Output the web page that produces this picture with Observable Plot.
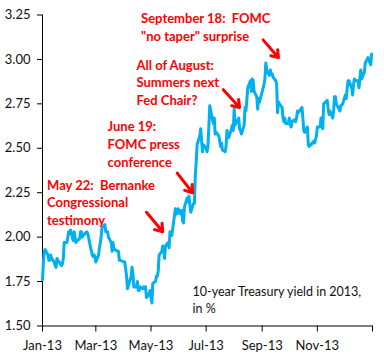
<!DOCTYPE html>
<html>
<head>
<meta charset="utf-8">
<script src="https://cdn.jsdelivr.net/npm/d3@7"></script>
<script src="https://cdn.jsdelivr.net/npm/@observablehq/plot@0.6"></script>
<style>
  html, body { margin: 0; padding: 0; background: #fff; }
  #chart { width: 384px; height: 360px; }
</style>
</head>
<body>
<div id="chart"></div>
<script>
// Trading dates (2013, "MM-DD") and 10-year Treasury yields (%)
const dates = [
  "01-01","01-02","01-03","01-04","01-07","01-08","01-09","01-10","01-11","01-14","01-15","01-16","01-17","01-18","01-22","01-23","01-24","01-25","01-28","01-29","01-30","01-31",
  "02-01","02-04","02-05","02-06","02-07","02-08","02-11","02-12","02-13","02-14","02-15","02-19","02-20","02-21","02-22","02-25","02-26","02-27","02-28",
  "03-01","03-04","03-05","03-06","03-07","03-08","03-11","03-12","03-13","03-14","03-15","03-18","03-19","03-20","03-21","03-22","03-25","03-26","03-27","03-28",
  "04-01","04-02","04-03","04-04","04-05","04-08","04-09","04-10","04-11","04-12","04-15","04-16","04-17","04-18","04-19","04-22","04-23","04-24","04-25","04-26","04-29","04-30",
  "05-01","05-02","05-03","05-06","05-07","05-08","05-09","05-10","05-13","05-14","05-15","05-16","05-17","05-20","05-21","05-22","05-23","05-24","05-28","05-29","05-30","05-31",
  "06-03","06-04","06-05","06-06","06-07","06-10","06-11","06-12","06-13","06-14","06-17","06-18","06-19","06-20","06-21","06-24","06-25","06-26","06-27","06-28",
  "07-01","07-02","07-03","07-05","07-08","07-09","07-10","07-11","07-12","07-15","07-16","07-17","07-18","07-19","07-22","07-23","07-24","07-25","07-26","07-29","07-30","07-31",
  "08-01","08-02","08-05","08-06","08-07","08-08","08-09","08-12","08-13","08-14","08-15","08-16","08-19","08-20","08-21","08-22","08-23","08-26","08-27","08-28","08-29","08-30",
  "09-03","09-04","09-05","09-06","09-09","09-10","09-11","09-12","09-13","09-16","09-17","09-18","09-19","09-20","09-23","09-24","09-25","09-26","09-27","09-30",
  "10-01","10-02","10-03","10-04","10-07","10-08","10-09","10-10","10-11","10-15","10-16","10-17","10-18","10-21","10-22","10-23","10-24","10-25","10-28","10-29","10-30","10-31",
  "11-01","11-04","11-05","11-06","11-07","11-08","11-12","11-13","11-14","11-15","11-18","11-19","11-20","11-21","11-22","11-25","11-26","11-27","11-29",
  "12-02","12-03","12-04","12-05","12-06","12-09","12-10","12-11","12-12","12-13","12-16","12-17","12-18","12-19","12-20","12-23","12-24","12-26","12-27","12-30","12-31"
];
const yields = [
  1.76,1.86,1.92,1.93,1.90,1.87,1.87,1.90,1.88,1.86,1.84,1.83,1.88,1.87,1.84,1.85,1.88,1.97,1.97,2.00,2.03,2.02,
  2.04,1.98,2.03,2.00,1.97,1.98,1.99,2.03,2.03,2.00,2.01,2.03,2.02,2.00,1.97,1.90,1.89,1.90,1.89,
  1.86,1.90,1.94,1.97,2.01,2.06,2.07,2.03,2.03,2.03,2.00,1.97,1.92,1.97,1.93,1.93,1.92,1.92,1.87,1.87,
  1.86,1.86,1.82,1.78,1.71,1.76,1.78,1.83,1.80,1.72,1.72,1.75,1.70,1.70,1.72,1.71,1.72,1.71,1.72,1.66,1.68,1.70,
  1.66,1.63,1.74,1.75,1.78,1.78,1.81,1.90,1.92,1.95,1.94,1.88,1.95,1.97,1.94,2.03,2.02,2.01,2.16,2.13,2.13,2.16,
  2.13,2.15,2.09,2.08,2.17,2.22,2.20,2.23,2.18,2.14,2.19,2.19,2.35,2.42,2.52,2.57,2.61,2.54,2.48,2.52,
  2.50,2.48,2.51,2.74,2.66,2.64,2.67,2.58,2.59,2.57,2.54,2.51,2.53,2.49,2.48,2.51,2.60,2.58,2.56,2.61,2.63,2.60,
  2.72,2.63,2.66,2.67,2.61,2.60,2.58,2.63,2.73,2.71,2.77,2.84,2.88,2.82,2.89,2.88,2.82,2.79,2.72,2.78,2.76,2.78,
  2.86,2.89,2.98,2.94,2.91,2.94,2.92,2.92,2.90,2.88,2.86,2.70,2.76,2.75,2.73,2.67,2.65,2.67,2.64,2.64,
  2.67,2.63,2.62,2.65,2.66,2.65,2.67,2.71,2.70,2.73,2.67,2.60,2.59,2.62,2.52,2.51,2.52,2.52,2.54,2.53,2.55,2.57,
  2.62,2.62,2.67,2.64,2.61,2.75,2.77,2.72,2.69,2.71,2.67,2.71,2.79,2.79,2.75,2.72,2.71,2.74,2.75,
  2.80,2.78,2.84,2.88,2.88,2.84,2.80,2.86,2.89,2.88,2.88,2.84,2.89,2.94,2.89,2.93,2.98,3.00,3.01,2.97,3.03
];

// Axis ticks
const yTicks = [1.50, 1.75, 2.00, 2.25, 2.50, 2.75, 3.00, 3.25];
const xTickDates = ["2013-01-01","2013-03-01","2013-05-01","2013-07-01","2013-09-01","2013-11-01","2014-01-01"];
const xTickLabels = ["Jan-13","Mar-13","May-13","Jul-13","Sep-13","Nov-13",""];

// Annotations (anchored in data space)
const noteTexts = [
  "September 18:  FOMC\n\"no taper\" surprise",
  "All of August:\nSummers next\nFed Chair?",
  "June 19:\nFOMC press\nconference",
  "May 22:  Bernanke\nCongressional\ntestimony"
];
const noteDates = ["2013-04-20","2013-04-15","2013-03-14","2013-01-06"];
const noteYields = [3.275, 3.012, 2.665, 2.338];

const arrowFromDates = ["2013-04-26","2013-05-30","2013-07-20","2013-09-02"];
const arrowFromYields = [2.14, 2.36, 2.83, 3.11];
const arrowToDates = ["2013-05-14","2013-06-16","2013-08-07","2013-09-19"];
const arrowToYields = [2.03, 2.25, 2.73, 3.01];

const captionText = "10-year Treasury yield in 2013,\nin %";
const captionDate = "2013-06-16";
const captionYield = 1.736;

// Build tables
const series = dates.map((d, i) => ({date: new Date("2013-" + d), value: yields[i]}));
const notes = noteTexts.map((t, i) => ({text: t, date: new Date(noteDates[i]), value: noteYields[i]}));
const arrows = arrowFromDates.map((d, i) => ({
  x1: new Date(d), y1: arrowFromYields[i], x2: new Date(arrowToDates[i]), y2: arrowToYields[i]
}));
const xTicks = xTickDates.map(d => new Date(d));
const xDomain = [xTicks[0], xTicks[xTicks.length - 1]];

const chart = Plot.plot({
  width: 384,
  height: 360,
  marginLeft: 42,
  marginRight: 12,
  marginTop: 14.5,
  marginBottom: 34.5,
  style: {fontFamily: "Lato", fontSize: "13px", color: "#111", background: "#fff", overflow: "visible"},
  x: {type: "utc", domain: xDomain, axis: null},
  y: {domain: [1.5, 3.25], axis: null},
  marks: [
    Plot.axisY({ticks: yTicks, tickSize: 5, tickPadding: 7, tickFormat: d3.format(".2f"), stroke: "#000", fill: "#111", fontSize: 13}),
    Plot.axisX({ticks: xTicks, tickSize: 6, tickPadding: 9, tickFormat: (d, i) => xTickLabels[i], stroke: "#000", fill: "#111", fontSize: 13}),
    Plot.ruleX([xDomain[0]], {y1: 1.5, y2: 3.25, stroke: "#000"}),
    Plot.ruleY([1.5], {x1: xDomain[0], x2: xDomain[1], stroke: "#000"}),
    Plot.line(series, {x: "date", y: "value", stroke: "#00b0f0", strokeWidth: 3, strokeLinejoin: "round", curve: "linear"}),
    Plot.arrow(arrows, {x1: "x1", y1: "y1", x2: "x2", y2: "y2", stroke: "#ff0000", strokeWidth: 3, headLength: 9, headAngle: 70}),
    Plot.text(notes, {x: "date", y: "value", text: "text", textAnchor: "start", lineAnchor: "top", lineHeight: 1.35, fill: "#ff0000", fontWeight: "bold", fontSize: 13}),
    Plot.text([captionText], {x: () => new Date(captionDate), y: () => captionYield, text: d => d, textAnchor: "start", lineAnchor: "top", lineHeight: 1.35, fill: "#111", fontSize: 12.5})
  ]
});
document.getElementById("chart").appendChild(chart);
</script>
</body>
</html>
